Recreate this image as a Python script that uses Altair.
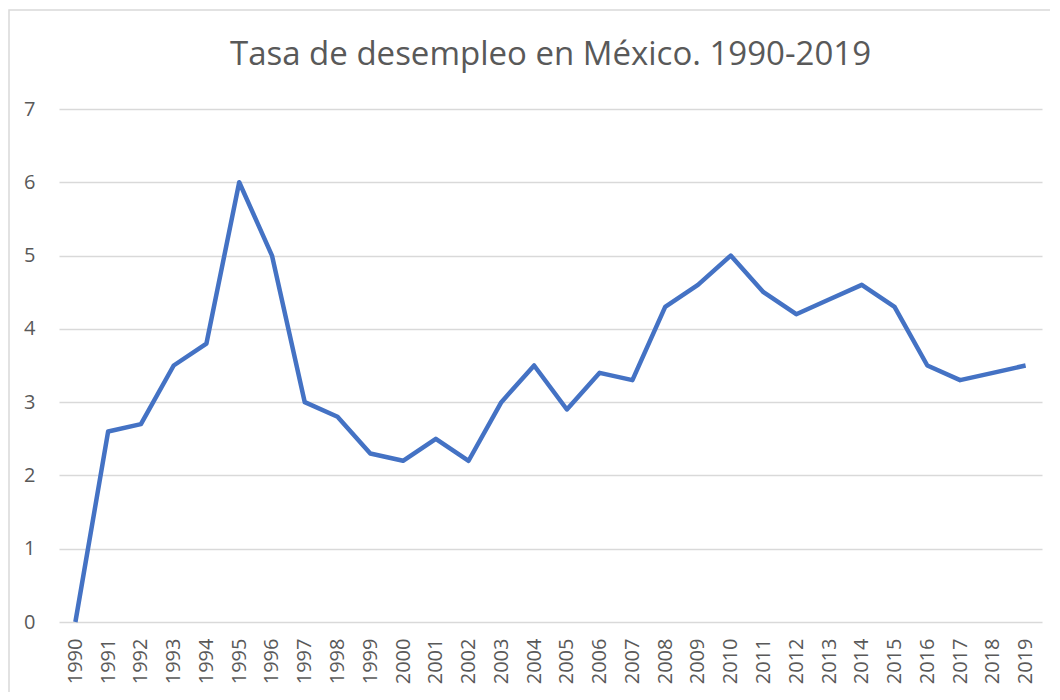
import altair as alt
import pandas as pd

years = [str(y) for y in range(1990, 2020)]
rates = [0.0, 2.6, 2.7, 3.5, 3.8, 6.0, 5.0, 3.0, 2.8, 2.3,
         2.2, 2.5, 2.2, 3.0, 3.5, 2.9, 3.4, 3.3, 4.3, 4.6,
         5.0, 4.5, 4.2, 4.4, 4.6, 4.3, 3.5, 3.3, 3.4, 3.5]
title_text = "Tasa de desempleo en México. 1990-2019"

df = pd.DataFrame({"year": years, "rate": rates})

FONT = "Open Sans"
GRAY = "#595959"

line = alt.Chart(df).mark_line(color="#4472C4", strokeWidth=4.5, strokeJoin="round").encode(
    x=alt.X("year:N", sort=years, title=None,
            scale=alt.Scale(type="point", padding=0.5),
            axis=alt.Axis(labelAngle=270, labelAlign="right", labelBaseline="middle",
                          ticks=False, domain=False, grid=False, labelPadding=16,
                          labelFontSize=20, labelColor=GRAY, labelFont=FONT)),
    y=alt.Y("rate:Q", title=None,
            scale=alt.Scale(domain=[0, 7], nice=False),
            axis=alt.Axis(values=[0, 1, 2, 3, 4, 5, 6, 7], ticks=False, domain=False,
                          grid=True, gridColor="#d9d9d9", gridWidth=1.3,
                          labelPadding=24, labelFontSize=20, labelColor=GRAY,
                          labelFont=FONT)),
)

border = alt.Chart(df).mark_rect(filled=False, stroke="#d9d9d9", strokeWidth=1.5).encode(
    x=alt.value(-50), x2=alt.value(1100), y=alt.value(-99), y2=alt.value(800)
).transform_filter(alt.datum.year == "1990")

chart = alt.layer(border, line).properties(
    width=983, height=513,
    title=alt.Title(title_text, fontSize=33, font=FONT, color=GRAY,
                    fontWeight="normal", offset=-89, baseline="alphabetic",
                    anchor="middle", frame="group"),
    autosize=alt.AutoSizeParams(type="none"),
    padding={"left": 51, "top": 101, "right": 8, "bottom": 70},
    view=alt.ViewBackground(stroke="transparent", strokeWidth=0),
).configure_view(stroke="transparent", strokeWidth=0, strokeOpacity=0).configure_axis(
    domain=False, domainColor="transparent"
).configure(background="white")

chart.save("out.html", embed_options={"renderer": "svg", "actions": False})
